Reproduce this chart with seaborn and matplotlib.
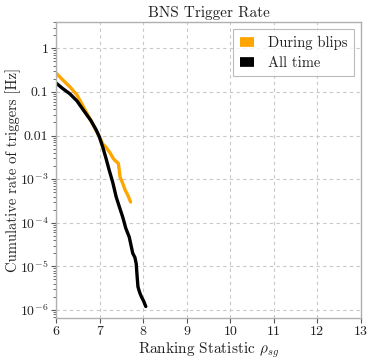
import numpy as np
import pandas as pd
import matplotlib
matplotlib.use("Agg")
import matplotlib.pyplot as plt
import seaborn as sns
from matplotlib.ticker import FixedLocator, LogLocator, NullFormatter

# ---- data ----
blip_stat = [6.0, 6.15, 6.32, 6.48, 6.63, 6.8, 6.99, 7.08, 7.12, 7.24, 7.31, 7.35, 7.43, 7.47, 7.52, 7.58, 7.65, 7.71]
blip_rate = [0.27, 0.19, 0.13, 0.085, 0.045, 0.022, 0.0095, 0.0062, 0.0058, 0.0040, 0.0030, 0.0027, 0.0023, 0.0011, 0.00085, 0.00058, 0.00042, 0.00030]

all_stat = [6.0, 6.15, 6.32, 6.48, 6.63, 6.8, 6.92, 6.99, 7.07, 7.15, 7.22, 7.3, 7.38, 7.46, 7.53, 7.6, 7.68, 7.76, 7.81, 7.84, 7.86, 7.88, 7.92, 7.96, 8.01, 8.06]
all_rate = [0.16, 0.12, 0.09, 0.062, 0.038, 0.022, 0.0135, 0.0095, 0.0055, 0.0029, 0.0016, 0.00085, 0.00039, 0.00022, 0.000135, 0.000075, 0.000047, 0.000020, 0.000016, 0.0000115, 0.000006, 0.0000034, 0.0000025, 0.000002, 0.0000016, 0.0000012]

series_names = ["During blips", "All time"]
series_colors = ["#FFA500", "#000000"]
x_ticks = [6, 7, 8, 9, 10, 11, 12, 13]
y_ticks = [1e-6, 1e-5, 1e-4, 1e-3, 1e-2, 1e-1, 1]
y_tick_labels = [r"$10^{-6}$", r"$10^{-5}$", r"$10^{-4}$", r"$10^{-3}$", "0.01", "0.1", "1"]

df = pd.concat([
    pd.DataFrame({"stat": blip_stat, "rate": blip_rate, "series": series_names[0]}),
    pd.DataFrame({"stat": all_stat, "rate": all_rate, "series": series_names[1]}),
], ignore_index=True)

sns.set_theme(style="whitegrid")
plt.rcParams["font.family"] = ["serif"]
plt.rcParams["font.serif"] = ["cmr10", "DejaVu Serif"]
plt.rcParams["mathtext.fontset"] = "cm"
plt.rcParams["axes.unicode_minus"] = False
plt.rcParams["axes.formatter.use_mathtext"] = True

fig = plt.figure(figsize=(3.74, 3.62), dpi=100)
ax = fig.add_axes([0.150, 0.122, 0.815, 0.817])

sns.lineplot(data=df, x="stat", y="rate", hue="series", hue_order=series_names,
             palette=series_colors, linewidth=2.4, ax=ax, sort=False, estimator=None)

ax.set_yscale("log")
ax.set_xlim(6, 13)
ax.set_ylim(6.6e-7, 4.0)
ax.xaxis.set_major_locator(FixedLocator(x_ticks))
ax.set_xticklabels([str(t) for t in x_ticks])
ax.yaxis.set_major_locator(FixedLocator(y_ticks))
ax.set_yticklabels(y_tick_labels)
ax.yaxis.set_minor_locator(LogLocator(base=10, subs=np.arange(2, 10), numticks=20))
ax.yaxis.set_minor_formatter(NullFormatter())

for s in ax.spines.values():
    s.set_color("#b0b0b0")
    s.set_linewidth(1.0)
ax.tick_params(axis="both", which="major", direction="out", length=3.5, width=0.8,
               color="#555555", labelsize=10, labelcolor="#222222", pad=2)
ax.tick_params(axis="y", which="minor", direction="out", length=2, width=0.6,
               color="#555555", left=True)
ax.tick_params(axis="x", bottom=True)
ax.tick_params(axis="y", left=True)
ax.grid(True, which="major", linestyle=(0, (3, 3)), color="#c8c8c8", linewidth=0.8)
ax.grid(False, which="minor")

ax.set_title("BNS Trigger Rate", fontsize=11, color="#222222", pad=4)
ax.set_xlabel(r"Ranking Statistic $\rho_{sg}$", fontsize=11, color="#222222", labelpad=2)
ax.set_ylabel("Cumulative rate of triggers [Hz]", fontsize=10.5, color="#222222", labelpad=-0.5)

leg = ax.legend(loc="upper right", fontsize=10.5, handlelength=1.0, handletextpad=0.9,
                frameon=True, fancybox=False, borderpad=0.45, labelspacing=0.4)
leg.get_frame().set_edgecolor("#aaaaaa")
leg.get_frame().set_linewidth(0.8)
for h in leg.legend_handles:
    h.set_linewidth(7)
    h.set_solid_capstyle("butt")
for t in leg.get_texts():
    t.set_color("#222222")

fig.savefig("out.png", dpi=100)
